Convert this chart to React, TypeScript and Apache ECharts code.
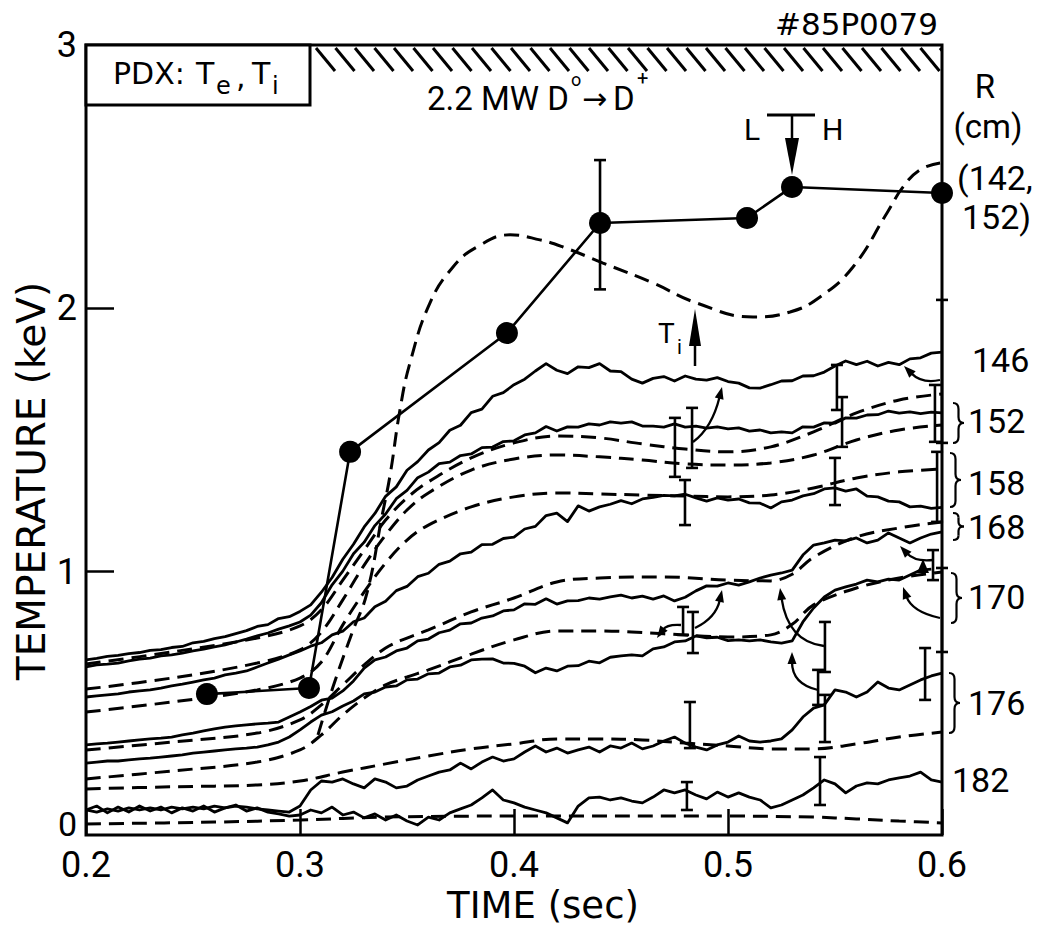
import React, { useEffect, useRef } from "react";
import * as echarts from "echarts";

// ---------- data ----------
// sample times (sec) for the measured electron-temperature traces
const TRACE_T: number[] = Array.from({ length: 81 }, (_, i) => Math.round((0.2 + i * 0.005) * 1000) / 1000);

// measured Te traces (keV) at each sample time, one per major radius
const te146 = [
  0.665, 0.671, 0.678, 0.682, 0.689, 0.693, 0.701, 0.704, 0.712, 0.716, 0.730, 0.735, 0.746, 0.753, 0.765, 0.776, 0.792, 0.799, 0.822, 0.829, 0.849,
  0.874, 0.922, 0.978, 1.047, 1.104, 1.170, 1.221, 1.286, 1.322, 1.385, 1.418, 1.462, 1.490, 1.537, 1.556, 1.604, 1.617, 1.666, 1.680, 1.710,
  1.731, 1.762, 1.790, 1.765, 1.752, 1.778, 1.775, 1.790, 1.762, 1.760, 1.731, 1.716, 1.734, 1.741, 1.724, 1.743, 1.731, 1.727, 1.737, 1.722,
  1.716, 1.698, 1.697, 1.710, 1.724, 1.725, 1.743, 1.744, 1.758, 1.781, 1.800, 1.786, 1.799, 1.781, 1.795, 1.786, 1.808, 1.812, 1.830, 1.834,
];
const te152 = [
  0.638, 0.646, 0.649, 0.653, 0.661, 0.668, 0.672, 0.680, 0.684, 0.691, 0.699, 0.706, 0.714, 0.722, 0.733, 0.744, 0.756, 0.767, 0.782, 0.794, 0.809,
  0.835, 0.882, 0.950, 1.002, 1.068, 1.112, 1.175, 1.219, 1.277, 1.309, 1.357, 1.378, 1.410, 1.416, 1.441, 1.447, 1.471, 1.473, 1.494, 1.497,
  1.519, 1.527, 1.551, 1.534, 1.550, 1.549, 1.561, 1.557, 1.569, 1.564, 1.569, 1.553, 1.553, 1.549, 1.561, 1.549, 1.553, 1.545, 1.550, 1.542,
  1.546, 1.534, 1.538, 1.527, 1.531, 1.527, 1.550, 1.549, 1.565, 1.564, 1.584, 1.583, 1.595, 1.596, 1.610, 1.602, 1.607, 1.600, 1.606, 1.603,
];
const te158 = [
  0.524, 0.528, 0.532, 0.536, 0.543, 0.547, 0.551, 0.558, 0.566, 0.573, 0.581, 0.589, 0.596, 0.608, 0.615, 0.623, 0.638, 0.653, 0.668, 0.684, 0.699,
  0.717, 0.730, 0.760, 0.774, 0.810, 0.824, 0.867, 0.888, 0.928, 0.944, 0.981, 0.994, 1.028, 1.040, 1.068, 1.074, 1.103, 1.104, 1.126, 1.131,
  1.162, 1.172, 1.213, 1.222, 1.190, 1.250, 1.230, 1.246, 1.256, 1.270, 1.258, 1.276, 1.282, 1.290, 1.288, 1.294, 1.280, 1.268, 1.280, 1.272,
  1.276, 1.261, 1.260, 1.242, 1.265, 1.272, 1.288, 1.296, 1.314, 1.318, 1.306, 1.314, 1.287, 1.284, 1.268, 1.265, 1.246, 1.249, 1.240, 1.244,
];
const te168 = [
  0.342, 0.346, 0.349, 0.353, 0.357, 0.361, 0.365, 0.368, 0.372, 0.380, 0.387, 0.395, 0.403, 0.410, 0.414, 0.418, 0.422, 0.425, 0.429, 0.448, 0.467,
  0.488, 0.512, 0.520, 0.547, 0.585, 0.634, 0.665, 0.676, 0.699, 0.710, 0.737, 0.744, 0.768, 0.778, 0.802, 0.805, 0.824, 0.832, 0.851, 0.855,
  0.878, 0.876, 0.897, 0.877, 0.889, 0.890, 0.900, 0.896, 0.904, 0.911, 0.900, 0.907, 0.896, 0.908, 0.889, 0.903, 0.927, 0.946, 0.945, 0.957,
  0.949, 0.961, 0.976, 0.987, 0.995, 1.006, 1.063, 1.101, 1.109, 1.120, 1.117, 1.128, 1.109, 1.120, 1.147, 1.128, 1.109, 1.128, 1.143, 1.151,
];
const te170 = [
  0.273, 0.277, 0.281, 0.281, 0.285, 0.289, 0.292, 0.296, 0.300, 0.304, 0.311, 0.315, 0.319, 0.323, 0.327, 0.330, 0.334, 0.342, 0.353, 0.372, 0.399,
  0.429, 0.455, 0.468, 0.490, 0.509, 0.536, 0.543, 0.562, 0.566, 0.589, 0.592, 0.612, 0.615, 0.638, 0.645, 0.665, 0.668, 0.669, 0.653, 0.652,
  0.641, 0.616, 0.634, 0.623, 0.641, 0.643, 0.660, 0.654, 0.675, 0.680, 0.684, 0.680, 0.707, 0.714, 0.733, 0.737, 0.756, 0.749, 0.751, 0.738,
  0.741, 0.737, 0.741, 0.733, 0.729, 0.737, 0.809, 0.862, 0.904, 0.930, 0.942, 0.953, 0.968, 0.961, 0.972, 0.968, 0.987, 1.006, 1.010, null,
];
const te176 = [
  0.095, 0.087, 0.099, 0.091, 0.103, 0.095, 0.103, 0.095, 0.106, 0.099, 0.106, 0.099, 0.110, 0.103, 0.110, 0.106, 0.099, 0.095, 0.091, 0.087, 0.110,
  0.171, 0.205, 0.201, 0.213, 0.194, 0.179, 0.213, 0.201, 0.179, 0.186, 0.209, 0.224, 0.239, 0.247, 0.273, 0.251, 0.277, 0.296, 0.281, 0.289,
  0.315, 0.338, 0.315, 0.330, 0.311, 0.323, 0.334, 0.315, 0.338, 0.330, 0.349, 0.327, 0.338, 0.357, 0.372, 0.349, 0.334, 0.323, 0.342, 0.353,
  0.376, 0.357, 0.353, 0.357, 0.365, 0.399, 0.448, 0.482, 0.494, 0.551, 0.543, 0.524, 0.543, 0.581, 0.558, 0.551, 0.570, 0.589, 0.604, 0.615,
];
const te182 = [
  0.095, 0.110, 0.084, 0.106, 0.087, 0.110, 0.091, 0.106, 0.084, 0.103, 0.091, 0.110, 0.087, 0.103, 0.114, 0.091, 0.103, 0.087, 0.080, 0.072, 0.076,
  0.095, 0.084, 0.106, 0.076, 0.087, 0.065, 0.080, 0.057, 0.076, 0.053, 0.038, 0.068, 0.057, 0.084, 0.099, 0.114, 0.141, 0.171, 0.133, 0.122,
  0.106, 0.095, 0.084, 0.065, 0.046, 0.110, 0.141, 0.144, 0.133, 0.141, 0.129, 0.122, 0.144, 0.171, 0.160, 0.171, 0.152, 0.137, 0.163, 0.144,
  0.160, 0.144, 0.133, 0.103, 0.114, 0.133, 0.152, 0.179, 0.209, 0.194, 0.160, 0.186, 0.198, 0.194, 0.209, 0.217, 0.224, 0.239, 0.209, 0.201,
];

// model Te curves, [time (sec), Te (keV)]
const model152a = [
  [0.2, 0.649], [0.24, 0.695], [0.28, 0.748], [0.3, 0.794], [0.31, 0.855], [0.32, 0.968], [0.33, 1.082], [0.34, 1.196], [0.35, 1.28],
  [0.36, 1.341], [0.38, 1.432], [0.4, 1.489], [0.42, 1.515], [0.44, 1.508], [0.46, 1.485], [0.48, 1.466], [0.5, 1.455], [0.52, 1.474],
  [0.54, 1.531], [0.56, 1.603], [0.58, 1.652], [0.6, 1.675],
];
const model152b = [
  [0.2, 0.554], [0.24, 0.596], [0.28, 0.653], [0.3, 0.703], [0.31, 0.771], [0.32, 0.893], [0.33, 1.025], [0.34, 1.139], [0.35, 1.234],
  [0.36, 1.299], [0.38, 1.386], [0.4, 1.428], [0.42, 1.443], [0.44, 1.436], [0.46, 1.424], [0.48, 1.409], [0.5, 1.405], [0.52, 1.413],
  [0.54, 1.443], [0.56, 1.5], [0.58, 1.538], [0.6, 1.557],
];
const model158 = [
  [0.2, 0.467], [0.24, 0.505], [0.28, 0.551], [0.3, 0.596], [0.31, 0.657], [0.32, 0.798], [0.33, 0.923], [0.34, 1.033], [0.35, 1.12],
  [0.36, 1.177], [0.38, 1.246], [0.4, 1.284], [0.42, 1.299], [0.44, 1.295], [0.46, 1.291], [0.48, 1.287], [0.5, 1.284], [0.52, 1.291],
  [0.54, 1.318], [0.56, 1.356], [0.58, 1.379], [0.6, 1.39],
];
const model168 = [
  [0.2, 0.323], [0.24, 0.353], [0.28, 0.387], [0.3, 0.437], [0.31, 0.494], [0.32, 0.57], [0.33, 0.646], [0.34, 0.71], [0.35, 0.748],
  [0.36, 0.779], [0.38, 0.847], [0.4, 0.9], [0.42, 0.961], [0.44, 0.976], [0.47, 0.98], [0.5, 0.968], [0.52, 0.965], [0.53, 0.99],
  [0.54, 1.055], [0.56, 1.132], [0.58, 1.166], [0.6, 1.189],
];
const model170 = [
  [0.2, 0.213], [0.24, 0.243], [0.28, 0.277], [0.3, 0.323], [0.31, 0.38], [0.32, 0.456], [0.33, 0.52], [0.34, 0.57], [0.35, 0.6],
  [0.36, 0.627], [0.38, 0.687], [0.4, 0.741], [0.42, 0.775], [0.44, 0.775], [0.47, 0.764], [0.5, 0.752], [0.52, 0.76], [0.53, 0.8],
  [0.54, 0.874], [0.56, 0.938], [0.58, 0.976], [0.6, 0.999],
];
const model176 = [
  [0.2, 0.175], [0.24, 0.183], [0.28, 0.19], [0.3, 0.205], [0.32, 0.239], [0.34, 0.27], [0.36, 0.3], [0.38, 0.327], [0.4, 0.346],
  [0.42, 0.365], [0.44, 0.365], [0.46, 0.361], [0.48, 0.349], [0.5, 0.338], [0.52, 0.327], [0.54, 0.327], [0.56, 0.346], [0.58, 0.372],
  [0.6, 0.391],
];
const model182 = [
  [0.2, 0.042], [0.26, 0.049], [0.3, 0.057], [0.34, 0.068], [0.4, 0.072], [0.5, 0.072], [0.54, 0.068], [0.56, 0.061], [0.58, 0.053],
  [0.6, 0.046],
];

// ion temperature: dashed curve and measured points (keV)
const tiCurve = [
  [0.3084, 0.38], [0.3154, 0.562], [0.3243, 0.767], [0.3313, 0.919], [0.3383, 1.21], [0.3421, 1.367], [0.3467, 1.614], [0.3514, 1.793],
  [0.3607, 2.02], [0.3715, 2.157], [0.3827, 2.233], [0.3981, 2.279], [0.4121, 2.26], [0.4229, 2.233], [0.4416, 2.172], [0.465, 2.096],
  [0.4855, 2.02], [0.5117, 1.967], [0.529, 1.986], [0.543, 2.043], [0.5584, 2.157], [0.5743, 2.362], [0.5818, 2.461], [0.5897, 2.526],
  [0.5991, 2.552],
];
const tiPoints = [
  [0.2565, 0.535], [0.3042, 0.558], [0.3234, 1.455], [0.3967, 1.906], [0.4402, 2.324], [0.5089, 2.343], [0.5299, 2.461], [0.6, 2.438],
];

// error bars: [time, low, high]
const errorBars = [
  [0.4402, 2.072, 2.563],
  [0.4752, 1.36, 1.584], [0.4832, 1.394, 1.622], [0.4799, 1.177, 1.348],
  [0.5509, 1.614, 1.785], [0.5533, 1.474, 1.663], [0.55, 1.253, 1.432],
  [0.5967, 1.493, 1.709], [0.5977, 1.189, 1.455], [0.5958, 0.968, 1.082],
  [0.6, 1.489, 2.032], [0.6, 0.695, 1.014], [0.5921, 0.513, 0.71],
  [0.479, 0.76, 0.866], [0.4836, 0.691, 0.847], [0.5453, 0.619, 0.809],
  [0.4822, 0.33, 0.505], [0.5421, 0.494, 0.627], [0.5453, 0.353, 0.532],
  [0.4808, 0.095, 0.201], [0.543, 0.114, 0.296],
];

const X_TICKS = [0.2, 0.3, 0.4, 0.5, 0.6];
const Y_TICKS = [0, 1, 2, 3];

// radius labels on the right: [text, left x, centre y]
const radiusLabels: [string, number, number][] = [
  ["146", 972, 360], ["152", 968, 421], ["158", 968, 483], ["168", 968, 527],
  ["170", 968, 597], ["176", 968, 703], ["182", 952, 780],
];
// braces: [left x, top y, bottom y]
const braces: [number, number, number][] = [
  [953, 403, 443], [950, 453, 507], [953, 513, 540], [951, 573, 623], [949, 673, 733],
];

// ---------- drawing helpers ----------
const INK = "#000";
const NUM_FONT = "Roboto";
const WORD_FONT = "DejaVu Sans";

function txt(text: string, x: number, y: number, size: number, opts: any = {}) {
  return {
    type: "text",
    x,
    y,
    rotation: opts.rotation || 0,
    z: 100,
    style: {
      text,
      fill: INK,
      fontSize: size,
      fontFamily: opts.font || NUM_FONT,
      fontWeight: opts.weight || "normal",
      align: opts.align || "left",
      verticalAlign: "middle",
    },
  };
}

function arrow(x1: number, y1: number, cx: number, cy: number, x2: number, y2: number, len = 12, half = 4.5) {
  const dx = x2 - cx;
  const dy = y2 - cy;
  const L = Math.hypot(dx, dy) || 1;
  const ux = dx / L;
  const uy = dy / L;
  const bx = x2 - ux * len;
  const by = y2 - uy * len;
  return [
    {
      type: "bezierCurve",
      z: 100,
      shape: { x1, y1, x2: bx + ux * 2, y2: by + uy * 2, cpx1: cx, cpy1: cy },
      style: { stroke: INK, lineWidth: 2.3, fill: "none" },
    },
    {
      type: "polygon",
      z: 100,
      shape: { points: [[x2, y2], [bx - uy * half, by + ux * half], [bx + uy * half, by - ux * half]] },
      style: { fill: INK },
    },
  ];
}

function brace(x0: number, yt: number, yb: number, w = 11) {
  const ym = (yt + yb) / 2;
  const xm = x0 + w / 2;
  const r = Math.min(6, (yb - yt) / 6);
  const st = { stroke: INK, lineWidth: 2.2, fill: "none" };
  return [
    { type: "bezierCurve", z: 100, shape: { x1: x0, y1: yt, cpx1: xm, cpy1: yt, x2: xm, y2: yt + r }, style: st },
    { type: "line", z: 100, shape: { x1: xm, y1: yt + r, x2: xm, y2: ym - r }, style: st },
    { type: "bezierCurve", z: 100, shape: { x1: xm, y1: ym - r, cpx1: xm, cpy1: ym, x2: x0 + w, y2: ym }, style: st },
    { type: "bezierCurve", z: 100, shape: { x1: x0 + w, y1: ym, cpx1: xm, cpy1: ym, x2: xm, y2: ym + r }, style: st },
    { type: "line", z: 100, shape: { x1: xm, y1: ym + r, x2: xm, y2: yb - r }, style: st },
    { type: "bezierCurve", z: 100, shape: { x1: xm, y1: yb - r, cpx1: xm, cpy1: yb, x2: x0, y2: yb }, style: st },
  ];
}

function buildGraphics() {
  const els: any[] = [];

  // title box in the upper-left corner
  els.push({
    type: "rect",
    z: 90,
    shape: { x: 86, y: 45, width: 224, height: 60 },
    style: { fill: "#fff", stroke: INK, lineWidth: 3 },
  });
  els.push(txt("PDX:", 113, 73, 30, { font: WORD_FONT }));
  els.push(txt("T", 196, 73, 30, { font: WORD_FONT }));
  els.push(txt("e", 216, 86, 24, { font: WORD_FONT }));
  els.push(txt(",", 236, 76, 30, { font: WORD_FONT }));
  els.push(txt("T", 252, 73, 30, { font: WORD_FONT }));
  els.push(txt("i", 272, 86, 24, { font: WORD_FONT }));

  // hatched band marking the beam-on interval
  for (let x = 316; x < 942; x += 19.5) {
    const x2 = Math.min(x + 19, 942);
    const y2 = 48 + (x2 - x) * (23 / 19);
    els.push({
      type: "line",
      z: 90,
      shape: { x1: x, y1: 48, x2, y2 },
      style: { stroke: INK, lineWidth: 3 },
    });
  }

  // shot number and heating label
  els.push(txt("#85P0079", 938, 24, 31, { font: WORD_FONT, align: "right" }));
  els.push(txt("2.2 MW D", 427, 98, 33));
  els.push(txt("o", 571, 79, 18));
  els.push(txt("\u2192", 582, 98, 30, { font: WORD_FONT }));
  els.push(txt("D", 613, 98, 33));
  els.push(txt("+", 637, 78, 20));

  // L-H transition marker
  els.push(txt("L", 744, 129, 30));
  els.push(txt("H", 822, 129, 30));
  els.push({ type: "line", z: 100, shape: { x1: 767, y1: 115, x2: 815, y2: 115 }, style: { stroke: INK, lineWidth: 3 } });
  els.push({ type: "line", z: 100, shape: { x1: 792, y1: 115, x2: 792, y2: 145 }, style: { stroke: INK, lineWidth: 2.5 } });
  els.push({ type: "polygon", z: 100, shape: { points: [[785, 138], [799, 138], [792, 175]] }, style: { fill: INK } });

  // Ti label with upward arrow
  els.push(txt("T", 658, 333, 28));
  els.push(txt("i", 677, 347, 20));
  els.push({ type: "line", z: 100, shape: { x1: 695, y1: 366, x2: 695, y2: 335 }, style: { stroke: INK, lineWidth: 2.5 } });
  els.push({ type: "polygon", z: 100, shape: { points: [[689, 346], [701, 346], [695, 309]] }, style: { fill: INK } });

  // right-hand radius legend
  els.push(txt("R", 985, 86, 33, { align: "center" }));
  els.push(txt("(cm)", 988, 126, 33, { align: "center" }));
  els.push(txt("(142,", 957, 178, 34));
  els.push(txt("152)", 962, 217, 34));
  radiusLabels.forEach(([t, x, y]) => els.push(txt(t, x, y, 34)));
  braces.forEach(([x, a, b]) => els.push(...brace(x, a, b)));

  // arrows tying error bars and labels to their traces
  els.push(...arrow(940, 380, 922, 384, 904, 366));
  els.push(...arrow(693, 442, 712, 428, 722, 387));
  els.push(...arrow(695, 628, 716, 618, 722, 590));
  els.push(...arrow(681, 625, 667, 624, 657, 638));
  els.push(...arrow(824, 646, 788, 642, 780, 588));
  els.push(...arrow(818, 690, 792, 684, 792, 652));
  els.push(...arrow(940, 618, 912, 612, 903, 587));
  els.push(...arrow(933, 560, 915, 562, 900, 546));
  els.push({ type: "polygon", z: 100, shape: { points: [[923, 559], [917, 573], [929, 573]] }, style: { fill: INK } });

  // zero label of the temperature axis, set a little above the corner
  els.push(txt(String(Y_TICKS[0]), 77, 824, 34, { align: "right" }));

  // axis titles
  els.push(txt("TIME (sec)", 543, 905, 37, { font: WORD_FONT, align: "center" }));
  els.push(txt("TEMPERATURE (keV)", 31, 481, 39, { font: WORD_FONT, align: "center", rotation: Math.PI / 2 }));

  return els;
}

const solidLine = (values: (number | null)[]) => ({
  type: "line",
  data: TRACE_T.map((t, i) => [t, values[i]]),
  symbol: "none",
  silent: true,
  connectNulls: false,
  lineStyle: { color: INK, width: 2.8, join: "round" },
  z: 3,
});

const dashedLine = (pts: number[][], smooth = 0.35) => ({
  type: "line",
  data: pts,
  symbol: "none",
  silent: true,
  smooth,
  lineStyle: { color: INK, width: 3, type: [15, 8] },
  z: 3,
});

export default function App() {
  const ref = useRef<HTMLDivElement>(null);

  useEffect(() => {
    if (!ref.current) return;
    const chart = echarts.init(ref.current, undefined, { renderer: "svg" });

    const option: any = {
      animation: false,
      backgroundColor: "#fff",
      grid: {
        left: 86,
        top: 45,
        right: 99,
        bottom: 96,
        show: true,
        borderColor: INK,
        borderWidth: 3,
        backgroundColor: "transparent",
      },
      xAxis: {
        type: "value",
        min: X_TICKS[0],
        max: X_TICKS[X_TICKS.length - 1],
        interval: 0.1,
        axisLine: { show: false },
        splitLine: { show: false },
        axisTick: { show: true, inside: true, length: 26, lineStyle: { color: INK, width: 2.5 } },
        axisLabel: {
          margin: 12,
          color: INK,
          fontSize: 36,
          fontFamily: NUM_FONT,
          formatter: (v: number) => v.toFixed(1),
        },
      },
      yAxis: {
        type: "value",
        min: Y_TICKS[0],
        max: Y_TICKS[Y_TICKS.length - 1],
        interval: 1,
        axisLine: { show: false },
        splitLine: { show: false },
        axisTick: { show: true, inside: true, length: 28, lineStyle: { color: INK, width: 2.5 } },
        axisLabel: { margin: 9, color: INK, fontSize: 36, fontFamily: NUM_FONT, showMinLabel: false },
      },
      series: [
        solidLine(te146),
        solidLine(te152),
        solidLine(te158),
        solidLine(te168),
        solidLine(te170),
        solidLine(te176),
        solidLine(te182),
        dashedLine(model152a),
        dashedLine(model152b),
        dashedLine(model158),
        dashedLine(model168),
        dashedLine(model170),
        dashedLine(model176),
        dashedLine(model182),
        dashedLine(tiCurve, 0.45),
        {
          type: "line",
          data: tiPoints,
          symbol: "circle",
          symbolSize: 22,
          silent: true,
          itemStyle: { color: INK },
          lineStyle: { color: INK, width: 2.6 },
          z: 5,
        },
        {
          type: "custom",
          data: errorBars,
          clip: false,
          silent: true,
          z: 4,
          encode: { x: 0, y: [1, 2] },
          renderItem: (_p: any, api: any) => {
            const lo = api.coord([api.value(0), api.value(1)]);
            const hi = api.coord([api.value(0), api.value(2)]);
            const cap = 6;
            const st = { stroke: INK, lineWidth: 2.6 };
            return {
              type: "group",
              children: [
                { type: "line", shape: { x1: lo[0], y1: lo[1], x2: hi[0], y2: hi[1] }, style: st },
                { type: "line", shape: { x1: lo[0] - cap, y1: lo[1], x2: lo[0] + cap, y2: lo[1] }, style: st },
                { type: "line", shape: { x1: hi[0] - cap, y1: hi[1], x2: hi[0] + cap, y2: hi[1] }, style: st },
              ],
            };
          },
        },
      ],
      graphic: { elements: buildGraphics() },
    };

    chart.setOption(option);
    return () => chart.dispose();
  }, []);

  return (
    <div
      ref={ref}
      style={{ position: "fixed", left: 0, top: 0, width: 1041, height: 931, background: "#fff" }}
    />
  );
}
